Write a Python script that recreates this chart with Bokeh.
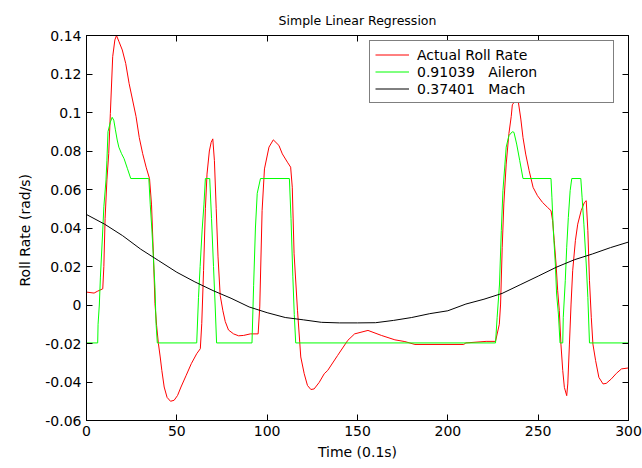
from bokeh.plotting import figure
from bokeh.models import Range1d, LinearAxis, FixedTicker, Legend, LegendItem, Title
from bokeh.embed import file_html
from bokeh.resources import INLINE

title_text = "Simple Linear Regression"
x_label = "Time (0.1s)"
y_label = "Roll Rate  (rad/s)"

x_ticks = [0, 50, 100, 150, 200, 250, 300]
x_tick_labels = ["0", "50", "100", "150", "200", "250", "300"]
y_ticks = [-0.06, -0.04, -0.02, 0, 0.02, 0.04, 0.06, 0.08, 0.1, 0.12, 0.14]
y_tick_labels = ["-0.06", "-0.04", "-0.02", "0", "0.02", "0.04", "0.06", "0.08", "0.1", "0.12", "0.14"]

series_names = ["Actual Roll Rate", "0.91039   Aileron", "0.37401   Mach"]

# Actual roll rate (red)
roll_t = [0, 4.2, 6.2, 9.0, 9.6, 10.3, 11.3, 12.3, 13.2, 14.5, 15.7, 16.6, 17.9, 19.8, 21.7,
          23.6, 25.5, 27.4, 29.2, 31.1, 33.0, 34.9, 36.0, 37.0, 37.9, 38.8, 39.8, 40.8, 41.7,
          43.0, 44.6, 46.5, 48.5, 50.4, 52.3, 55.2, 58.0, 61.0, 63.0, 63.8, 64.8, 65.8, 66.7,
          68.0, 69.0, 69.9, 70.8, 71.8, 72.8, 74.0, 75.5, 76.8, 78.6, 81.4, 84.2, 87.0, 90.7,
          95.0, 95.9, 97.2, 98.5, 101.0, 103.4, 106.5, 108.4, 111.2, 113.0, 113.9, 114.9,
          116.8, 118.6, 120.5, 122.3, 124.2, 126.0, 128.8, 131.6, 133.5, 139.0, 144.6, 148.4,
          155.8, 163.2, 170.7, 176.2, 181.8, 208.8, 210.0, 221.2, 226.4, 228.5, 229.2, 230.1,
          231.0, 232.3, 233.8, 235.1, 235.7, 237.2, 239.1, 240.4, 241.6, 243.1, 245.0, 247.2,
          249.6, 252.4, 255.2, 257.1, 258.0, 258.9, 259.9, 260.8, 261.7, 262.6, 263.6, 264.5,
          265.8, 266.4, 267.3, 268.2, 269.1, 270.6, 271.9, 273.8, 275.6, 276.6, 277.5, 278.4,
          279.4, 280.3, 281.8, 283.6, 285.9, 287.7, 290.5, 293.3, 296.1, 300]
roll_v = [0.0067, 0.0062, 0.0072, 0.0084, 0.020, 0.045, 0.065, 0.0786, 0.0995, 0.129, 0.1377,
          0.140, 0.137, 0.1325, 0.1255, 0.115, 0.1065, 0.098, 0.087, 0.0786, 0.0716, 0.0656,
          0.052, 0.027, 0.0007, -0.0106, -0.020, -0.027, -0.034, -0.0426, -0.048, -0.050,
          -0.0495, -0.047, -0.0426, -0.0365, -0.0305, -0.0253, -0.0227, -0.0097, 0.018, 0.050,
          0.068, 0.080, 0.0845, 0.0863, 0.075, 0.050, 0.025, 0.005, -0.003, -0.0086, -0.013,
          -0.015, -0.016, -0.0158, -0.015, -0.015, -0.001, 0.049, 0.0707, 0.082, 0.0858, 0.0829,
          0.0785, 0.0742, 0.0716, 0.0612, 0.0266, -0.003, -0.027, -0.0357, -0.0418, -0.0439,
          -0.0436, -0.0402, -0.0357, -0.034, -0.0262, -0.0184, -0.015, -0.0132, -0.0158,
          -0.0181, -0.019, -0.0205, -0.0205, -0.0197, -0.0189, -0.0189, -0.010, 0.0005, 0.030,
          0.0525, 0.0732, 0.089, 0.098, 0.104, 0.106, 0.105, 0.0966, 0.087, 0.0784, 0.0698,
          0.0611, 0.0568, 0.0533, 0.0507, 0.049, 0.0438, 0.0334, 0.0213, 0.0074, -0.0029,
          -0.0203, -0.034, -0.0428, -0.0471, -0.041, -0.0203, 0.0005, 0.0178, 0.0334, 0.042,
          0.049, 0.0533, 0.0542, 0.0386, 0.0126, -0.0064, -0.0203, -0.0289, -0.0376, -0.041,
          -0.0407, -0.0384, -0.0355, -0.0332, -0.0327]

# Aileron term (green)
ail_t = [0, 6.2, 6.4, 7.1, 7.7, 9.0, 9.6, 10.8, 11.3, 11.9, 13.2, 14.2, 15.1, 16.0, 17.0, 17.9,
         19.4, 20.8, 22.6, 24.5, 34.5, 35.3, 36.2, 37.0, 37.9, 38.5, 39.2, 61.0, 62.0, 62.9,
         64.0, 65.0, 65.8, 68.2, 69.2, 70.3, 71.2, 72.0, 91.6, 92.5, 93.5, 94.5, 96.3, 112.3,
         113.2, 114.2, 115.0, 115.8, 226.4, 227.3, 228.6, 229.6, 230.5, 231.6, 232.3, 233.8,
         235.7, 236.6, 238.1, 239.8, 241.6, 257.1, 257.6, 258.4, 259.5, 260.2, 261.2, 262.1,
         263.6, 263.9, 265.0, 265.8, 266.7, 267.7, 268.6, 273.6, 274.3, 275.3, 276.6, 277.5,
         278.4, 300]
ail_v = [-0.0197, -0.0197, -0.010, 0.000, 0.0145, 0.039, 0.051, 0.065, 0.0752, 0.090, 0.095,
         0.0975, 0.096, 0.091, 0.0857, 0.082, 0.0786, 0.076, 0.071, 0.0657, 0.0657, 0.052,
         0.039, 0.025, 0.009, -0.0097, -0.0197, -0.0197, 0.004, 0.020, 0.039, 0.052, 0.0657,
         0.0657, 0.045, 0.020, 0.000, -0.0197, -0.0197, 0.010, 0.040, 0.058, 0.0657, 0.0657,
         0.045, 0.015, -0.005, -0.0197, -0.0197, -0.0064, 0.0109, 0.0386, 0.0594, 0.0732,
         0.082, 0.088, 0.090, 0.0897, 0.0836, 0.075, 0.0657, 0.0657, 0.056, 0.0386, 0.0213,
         0.0057, -0.0047, -0.0197, -0.0197, -0.0064, 0.0126, 0.030, 0.0455, 0.0594, 0.0657,
         0.0657, 0.056, 0.042, 0.0213, 0.004, -0.0197, -0.0197]

# Mach term (black)
mach_t = [0, 10, 20, 30, 40, 50, 60, 70, 80, 90, 100, 110, 120, 130, 140, 150, 160, 170, 180,
          190, 200, 210, 220, 230, 240, 250, 260, 270, 280, 290, 300]
mach_v = [0.047, 0.042, 0.036, 0.029, 0.023, 0.017, 0.012, 0.0075, 0.0035, -0.001, -0.004,
          -0.0065, -0.0077, -0.009, -0.0093, -0.0093, -0.0092, -0.008, -0.0065, -0.0045,
          -0.003, 0.0005, 0.003, 0.006, 0.0105, 0.015, 0.0196, 0.0235, 0.0265, 0.0298, 0.0327]

FONT = "DejaVu Sans"
FS = "14px"

p = figure(width=642, height=468, x_range=Range1d(0, 300), y_range=Range1d(-0.06, 0.14),
           output_backend="svg", toolbar_location=None, title=title_text,
           min_border_left=86, min_border_right=14, min_border_top=35, min_border_bottom=48)
p.background_fill_color = "white"
p.border_fill_color = "white"
p.outline_line_color = "black"
p.outline_line_width = 1
p.xgrid.visible = False
p.ygrid.visible = False

p.title.text_font = FONT
p.title.text_font_size = "12.5px"
p.title.text_font_style = "normal"
p.title.align = "center"
p.title.offset = -15
p.title.text_color = "black"
p.title.standoff = 15


def style_axis(ax):
    ax.axis_line_color = "black"
    ax.major_tick_line_color = "black"
    ax.major_tick_in = 6
    ax.major_tick_out = 0
    ax.minor_tick_in = 6
    ax.minor_tick_out = 0
    ax.major_label_text_font = FONT
    ax.major_label_text_font_size = FS
    ax.major_label_text_color = "black"
    ax.major_label_standoff = 5
    ax.axis_label_text_font = FONT
    ax.axis_label_text_font_size = FS
    ax.axis_label_text_font_style = "normal"
    ax.axis_label_text_color = "black"


xa = p.xaxis[0]
ya = p.yaxis[0]
style_axis(xa)
style_axis(ya)
xa.ticker = FixedTicker(ticks=x_ticks)
ya.ticker = FixedTicker(ticks=y_ticks)
xa.major_label_overrides = dict(zip(x_ticks, x_tick_labels))
ya.major_label_overrides = dict(zip(y_ticks, y_tick_labels))
xa.minor_tick_line_color = None
ya.minor_tick_line_color = None
xa.axis_label = x_label
xa.axis_label_standoff = 5

# y-axis title as a side title (allows the slight upward shift seen in the original)
ytitle = Title(text=y_label, align="center", offset=27, standoff=20,
               text_font=FONT, text_font_size=FS, text_font_style="normal", text_color="black")
p.add_layout(ytitle, "left")

# Box ticks on top and right (tick marks only, no labels)
top_ax = LinearAxis(ticker=FixedTicker(ticks=[], minor_ticks=x_ticks))
right_ax = LinearAxis(ticker=FixedTicker(ticks=[], minor_ticks=y_ticks))
for ax in (top_ax, right_ax):
    style_axis(ax)
    ax.minor_tick_line_color = "black"
    ax.major_label_standoff = 0
p.add_layout(top_ax, "above")
p.add_layout(right_ax, "right")

r_roll = p.line(roll_t, roll_v, line_color="#ff0000", line_width=1)
r_ail = p.line(ail_t, ail_v, line_color="#00ff00", line_width=1)
r_mach = p.line(mach_t, mach_v, line_color="#000000", line_width=1)

legend = Legend(items=[LegendItem(label=series_names[0], renderers=[r_roll]),
                       LegendItem(label=series_names[1], renderers=[r_ail]),
                       LegendItem(label=series_names[2], renderers=[r_mach])],
                location=(283, 317))
legend.margin = 0
legend.padding = 5
legend.spacing = 0
legend.label_height = 17
legend.glyph_height = 17
legend.glyph_width = 34
legend.label_standoff = 8
legend.label_width = 191
legend.label_text_font = FONT
legend.label_text_font_size = FS
legend.label_text_color = "black"
legend.border_line_color = "black"
legend.border_line_width = 1
legend.background_fill_color = "white"
legend.background_fill_alpha = 1
p.add_layout(legend, "center")

open("out.html", "w").write(file_html(p, INLINE))
